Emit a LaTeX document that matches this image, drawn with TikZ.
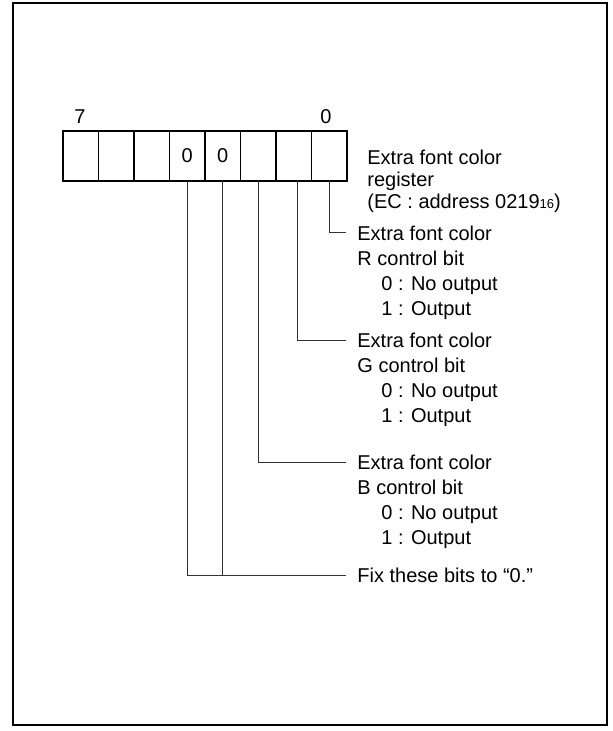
\documentclass[tikz,border=0pt]{standalone}
\usepackage{fontspec}
\setmainfont{Liberation Sans}
\usetikzlibrary{positioning, calc}

\begin{document}
\begin{tikzpicture}[
    x=0.5pt, y=-0.5pt,
    cell/.style={rectangle, draw=black, line width=0.65pt,
                 minimum width=17.75pt, minimum height=25pt,
                 inner sep=0pt, outer sep=0pt, font=\fontsize{10}{12}\selectfont},
    bitnum/.style={font=\fontsize{10}{12}\selectfont, inner sep=0pt},
    lbl/.style={anchor=north west, align=left, inner sep=0pt,
                font=\fontsize{10}{12.5}\selectfont},
    wire/.style={line width=0.5pt, draw=black!80},
    frame/.style={line width=1pt, draw=black},
]

% --- page size + outer frame ---
\useasboundingbox (0,0) rectangle (613,731);
\draw [frame] (13,3) rectangle (607,725);

% ============================================================
%  Register cells (bit 7 ... bit 0)
% ============================================================
\node (b7) [cell] at (80.75, 156) {};
\node (b6) [cell] at (116.25,156) {};
\node (b5) [cell] at (151.75,156) {};
\node (b4) [cell] at (187.25,156) {0};
\node (b3) [cell] at (222.75,156) {0};
\node (b2) [cell] at (258.25,156) {};
\node (b1) [cell] at (293.75,156) {};
\node (b0) [cell] at (329.25,156) {};

% --- bit numbers ---
\node (n7) [bitnum] at (80,117)  {7};
\node (n0) [bitnum] at (326,117) {0};

% --- register name ---
\node (regname) [lbl, font=\fontsize{10}{11}\selectfont] at (367,149.5)
    {Extra font color\\register\\(EC : address 0219{\fontsize{6.5}{7}\selectfont 16})};

% ============================================================
%  Bit descriptions
% ============================================================
\node (rlab) [lbl] at (357,225.5)
    {Extra font color\\R control bit\\\hspace*{12pt}0 : No output\\\hspace*{12pt}1 : Output};
\node (glab) [lbl] at (357,332.5)
    {Extra font color\\G control bit\\\hspace*{12pt}0 : No output\\\hspace*{12pt}1 : Output};
\node (blab) [lbl] at (357,454.5)
    {Extra font color\\B control bit\\\hspace*{12pt}0 : No output\\\hspace*{12pt}1 : Output};
\node (fixlab) [lbl] at (357,567.5)
    {Fix these bits to “0.”};

% --- line ends ---
\coordinate (rend)   at (346,233);
\coordinate (gend)   at (346,340);
\coordinate (bend)   at (346,462);
\coordinate (fixend) at (346,575);

% --- connectors ---
\draw [wire] (b0.south) |- (rend);
\draw [wire] ([xshift=1.75pt]b1.south) |- (gend);
\draw [wire] (b2.south) |- (bend);
\draw [wire] (b4.south) |- (fixend);
\draw [wire] (b3.south) -- (b3.south |- fixend);

\end{tikzpicture}
\end{document}
